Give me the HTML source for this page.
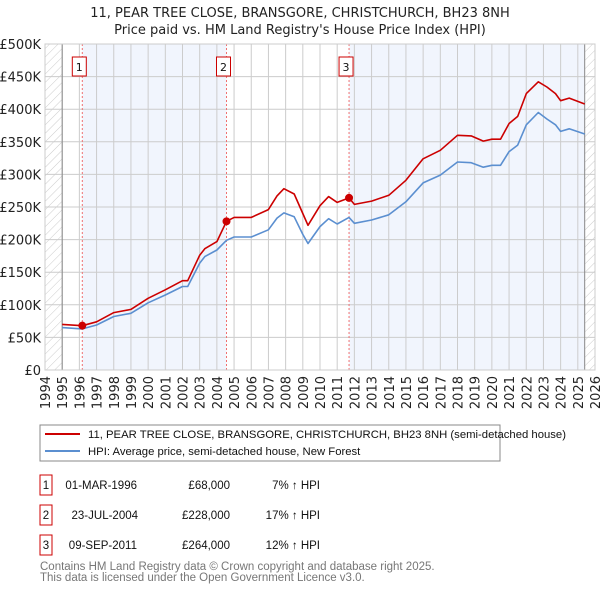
<!DOCTYPE html>
<html><head><meta charset="utf-8"><style>
body{margin:0;width:600px;height:590px;background:#fff;font-family:"Liberation Sans","DejaVu Sans",sans-serif;overflow:hidden}
svg text{font-family:"DejaVu Sans","Liberation Sans",sans-serif}
svg text.lib{font-family:"Liberation Sans","DejaVu Sans",sans-serif}
</style></head><body>
<svg id="c" width="600" height="590" xmlns="http://www.w3.org/2000/svg">
<defs><pattern id="hatch" width="6" height="6" patternUnits="userSpaceOnUse" patternTransform="rotate(45)"><line x1="0" y1="0" x2="0" y2="6" stroke="#ccc" stroke-width="1"/></pattern></defs>
<text x="300" y="17" text-anchor="middle" font-size="13" fill="#222">11, PEAR TREE CLOSE, BRANSGORE, CHRISTCHURCH, BH23 8NH</text>
<text x="300" y="34" text-anchor="middle" font-size="13" fill="#222">Price paid vs. HM Land Registry's House Price Index (HPI)</text>
<g id="plot"></g>
<rect x="40" y="425" width="460" height="36" fill="#fff" stroke="#888"/>
<line x1="45" y1="434" x2="80" y2="434" stroke="#cc0000" stroke-width="2"/>
<text class="lib" x="88" y="438" font-size="11.3" fill="#111">11, PEAR TREE CLOSE, BRANSGORE, CHRISTCHURCH, BH23 8NH (semi-detached house)</text>
<line x1="45" y1="451" x2="80" y2="451" stroke="#5b8fd0" stroke-width="2"/>
<text class="lib" x="88" y="455" font-size="11.3" fill="#111">HPI: Average price, semi-detached house, New Forest</text>
<g font-size="11.5" fill="#111">
<rect x="40" y="475" width="12" height="20" fill="#fff" stroke="#cc0000"/><text class="lib" x="46" y="489" text-anchor="middle">1</text>
<text class="lib" x="137" y="489" text-anchor="end">01-MAR-1996</text><text class="lib" x="230" y="489" text-anchor="end">£68,000</text><text class="lib" x="320" y="489" text-anchor="end">7% ↑ HPI</text>
<rect x="40" y="505" width="12" height="20" fill="#fff" stroke="#cc0000"/><text class="lib" x="46" y="519" text-anchor="middle">2</text>
<text class="lib" x="138" y="519" text-anchor="end">23-JUL-2004</text><text class="lib" x="230" y="519" text-anchor="end">£228,000</text><text class="lib" x="320" y="519" text-anchor="end">17% ↑ HPI</text>
<rect x="40" y="535" width="12" height="20" fill="#fff" stroke="#cc0000"/><text class="lib" x="46" y="549" text-anchor="middle">3</text>
<text class="lib" x="137" y="549" text-anchor="end">09-SEP-2011</text><text class="lib" x="230" y="549" text-anchor="end">£264,000</text><text class="lib" x="320" y="549" text-anchor="end">12% ↑ HPI</text>
</g>
<text class="lib" x="40" y="570" font-size="11.5" fill="#777">Contains HM Land Registry data © Crown copyright and database right 2025.</text>
<text class="lib" x="40" y="581" font-size="11.5" fill="#777">This data is licensed under the Open Government Licence v3.0.</text>
</svg>
<script>
const hpiDates=[1995.0,1996.17,1997,1998,1999,2000,2001,2002,2002.3,2003,2003.3,2004,2004.56,2005,2006,2007,2007.5,2007.9,2008.5,2009.0,2009.3,2010,2010.5,2011,2011.69,2012,2013,2014,2015,2016,2017,2018,2018.8,2019.5,2020,2020.5,2021,2021.5,2022,2022.7,2023.2,2023.7,2024,2024.5,2025.4];
const hpiValues=[65,63,69,82,87,103,115,128,128,164,174,184,199,204,204,215,233,241,235,208,194,220,232,224,234,225,230,238,258,287,299,319,318,311,314,314,335,345,376,395,385,376,366,370,362];
const propValues=[70,68,74,88,93,110,123,137,137,176,186,197,228,234,234,246,267,278,270,240,222,252,266,257,264,254,259,268,291,324,337,360,359,351,354,354,378,389,424,442,434,424,413,417,408];
const saleDates=[1996.17,2004.56,2011.69];
const saleValues=[68,228,264];
const yTicks=[0,50,100,150,200,250,300,350,400,450,500];
const yTickLabels=["£0","£50K","£100K","£150K","£200K","£250K","£300K","£350K","£400K","£450K","£500K"];
const xYears=[];for(let y=1994;y<=2026;y++)xYears.push(y);
const X0=45,X1=595,Y0=370,Y1=44,xmin=1994,xmax=2026,ymax=500;
const xs=v=>X0+(v-xmin)/(xmax-xmin)*(X1-X0);
const ys=v=>Y0-v/ymax*(Y0-Y1);
const NS="http://www.w3.org/2000/svg";
const g=document.getElementById('plot');
function mk(t,a){const e=document.createElementNS(NS,t);for(const k in a)e.setAttribute(k,a[k]);g.appendChild(e);return e;}
let e;
e=mk('rect',{x:X0,y:Y1,width:X1-X0,height:Y0-Y1,fill:'#fff'});


e=mk('rect',{x:xs(saleDates[0]),y:Y1,width:xs(saleDates[1])-xs(saleDates[0]),height:Y0-Y1,fill:'#eef3fc',opacity:0.8});


e=mk('rect',{x:xs(saleDates[2]),y:Y1,width:xs(2025.4)-xs(saleDates[2]),height:Y0-Y1,fill:'#eef3fc',opacity:0.8});


e=mk('rect',{x:X0,y:Y1,width:xs(1995)-X0,height:Y0-Y1,fill:'url(#hatch)'});


e=mk('rect',{x:xs(2025.4),y:Y1,width:X1-xs(2025.4),height:Y0-Y1,fill:'url(#hatch)'});


yTicks.forEach((t,i)=>{
 e=mk('line',{x1:X0,x2:X1,y1:ys(t),y2:ys(t),stroke:'#ccc','stroke-width':1});
 
 
 e=mk('text',{x:X0-4,y:ys(t)+5,'text-anchor':'end','font-size':13,fill:'#222'});e.textContent=yTickLabels[i];
 
 
});
xYears.forEach(yr=>{
 e=mk('line',{x1:xs(yr),x2:xs(yr),y1:Y1,y2:Y0,stroke:'#ccc','stroke-width':1});
 
 
 const x=xs(yr)+5,y=Y0+6;
 e=mk('text',{x:x,y:y,transform:`rotate(-90 ${x} ${y})`,'text-anchor':'end','font-size':13,fill:'#222'});e.textContent=yr;
 
 
});
e=mk('line',{x1:xs(1995),x2:xs(1995),y1:Y1,y2:Y0,stroke:'#888'});


e=mk('line',{x1:xs(2025.4),x2:xs(2025.4),y1:Y1,y2:Y0,stroke:'#888'});


saleDates.forEach((d,i)=>{
 e=mk('line',{x1:xs(d),x2:xs(d),y1:Y1,y2:Y0,stroke:'#f07070','stroke-dasharray':'2,2'});
 
 
 e=mk('rect',{x:xs(d)-10,y:57,width:14,height:19,fill:'#fff',stroke:'#cc0000'});
 
 
 e=mk('text',{x:xs(d)-3,y:71,'text-anchor':'middle','font-size':11,fill:'#111'});e.textContent=i+1;
 
 
});
const pts=(vals)=>hpiDates.map((d,i)=>xs(d).toFixed(1)+','+ys(vals[i]).toFixed(1)).join(' ');
e=mk('polyline',{points:pts(hpiValues),fill:'none',stroke:'#5b8fd0','stroke-width':1.6,'stroke-linejoin':'round'});


e=mk('polyline',{points:pts(propValues),fill:'none',stroke:'#cc0000','stroke-width':1.6,'stroke-linejoin':'round'});


saleDates.forEach((d,i)=>{
 e=mk('circle',{cx:xs(d),cy:ys(saleValues[i]),r:4,fill:'#cc0000'});
 
 
});
e=mk('rect',{x:X0,y:Y1,width:X1-X0,height:Y0-Y1,fill:'none',stroke:'#ccc'});


</script>
</body></html>
